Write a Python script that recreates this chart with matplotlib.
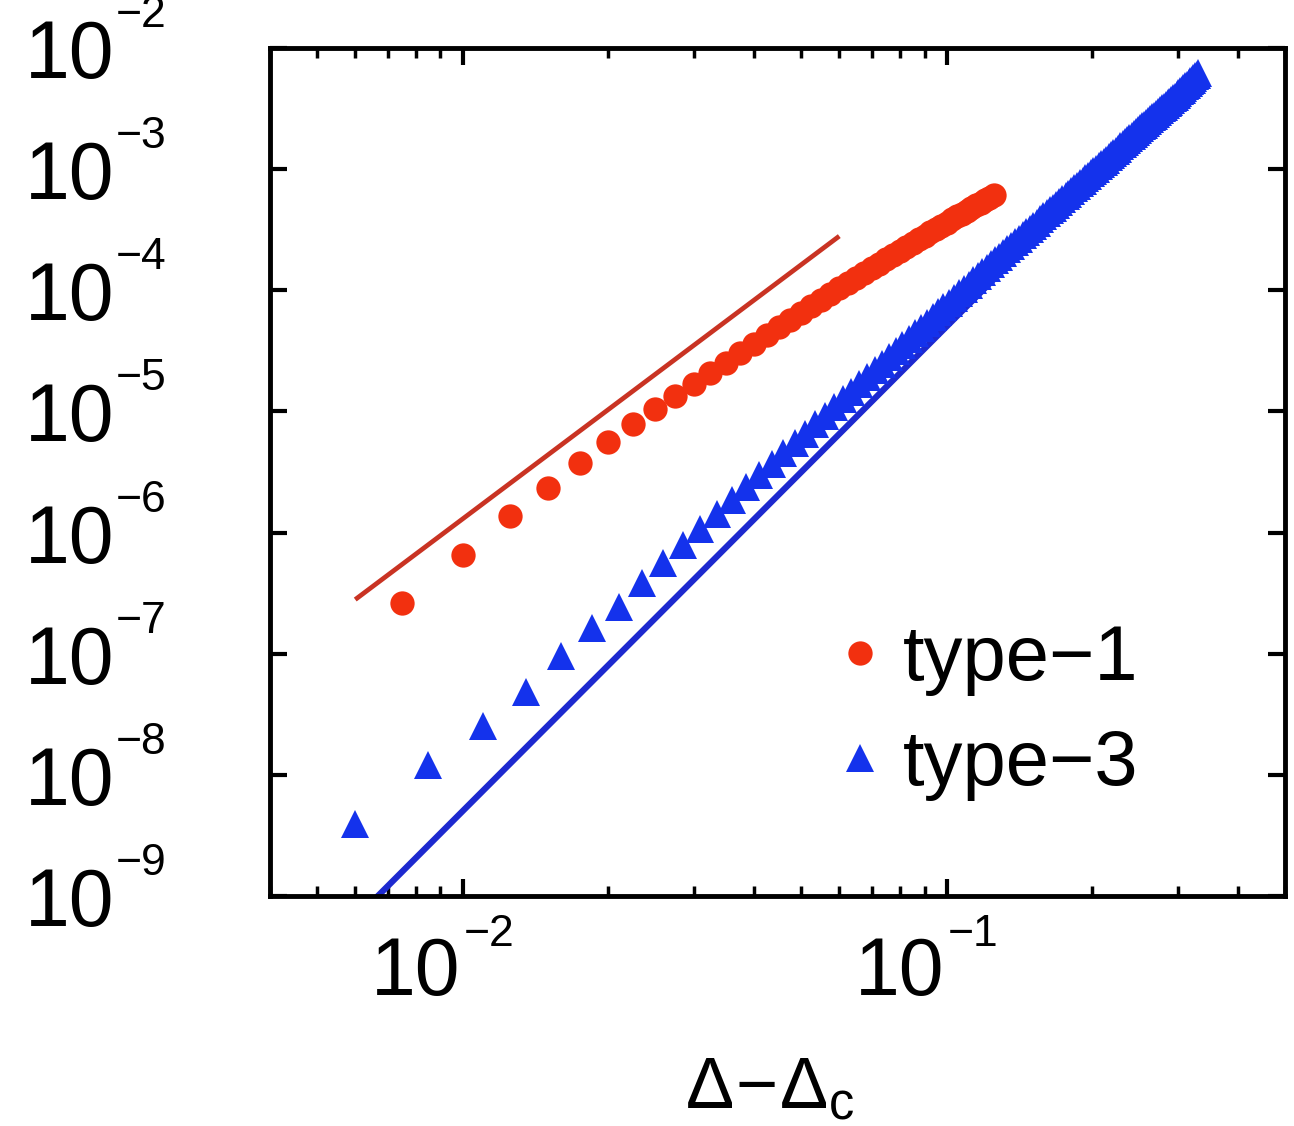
import matplotlib
matplotlib.use('Agg')
import matplotlib.pyplot as plt
from matplotlib.ticker import LogLocator, NullLocator, NullFormatter
from matplotlib.transforms import offset_copy

plt.rcParams['font.family'] = ['Liberation Sans', 'DejaVu Sans']
plt.rcParams['mathtext.fontset'] = 'custom'
plt.rcParams['mathtext.rm'] = 'Liberation Sans'
plt.rcParams['mathtext.it'] = 'Liberation Sans'
plt.rcParams['mathtext.default'] = 'regular'

# type-1 sites (red circles)
type1_x = [0.0075, 0.01, 0.0125, 0.015, 0.0175, 0.02, 0.0225, 0.025, 0.0275, 0.03,
           0.0325, 0.035, 0.0375, 0.04, 0.0425, 0.045, 0.0475, 0.05, 0.0525, 0.055,
           0.0575, 0.06, 0.0625, 0.065, 0.0675, 0.07, 0.0725, 0.075, 0.0775, 0.08,
           0.0825, 0.085, 0.0875, 0.09, 0.0925, 0.095, 0.0975, 0.1, 0.1025, 0.105,
           0.1075, 0.11, 0.1125, 0.115, 0.1175, 0.12, 0.1225, 0.125]
type1_y = [2.60e-7, 6.59e-7, 1.38e-6, 2.35e-6, 3.78e-6, 5.62e-6, 7.91e-6, 1.04e-5, 1.34e-5, 1.68e-5,
           2.07e-5, 2.53e-5, 3.04e-5, 3.62e-5, 4.25e-5, 4.94e-5, 5.69e-5, 6.49e-5, 7.37e-5, 8.30e-5,
           9.30e-5, 1.04e-4, 1.15e-4, 1.27e-4, 1.39e-4, 1.52e-4, 1.66e-4, 1.81e-4, 1.96e-4, 2.12e-4,
           2.28e-4, 2.45e-4, 2.63e-4, 2.82e-4, 3.01e-4, 3.21e-4, 3.41e-4, 3.62e-4, 3.84e-4, 4.07e-4,
           4.30e-4, 4.53e-4, 4.78e-4, 5.03e-4, 5.29e-4, 5.55e-4, 5.82e-4, 6.10e-4]

# type-3 sites (blue triangles)
type3_x = [0.006, 0.0085, 0.011, 0.0135, 0.016, 0.0185, 0.021, 0.0235, 0.026,
           0.0285, 0.031, 0.0335, 0.036, 0.0385, 0.041, 0.0435, 0.046, 0.0485, 0.051,
           0.0535, 0.056, 0.0585, 0.061, 0.0635, 0.066, 0.0685, 0.071, 0.0735, 0.076,
           0.0785, 0.081, 0.0835, 0.086, 0.0885, 0.091, 0.0935, 0.096, 0.0985, 0.101,
           0.1035, 0.106, 0.1085, 0.111, 0.1135, 0.116, 0.1185, 0.121, 0.1235, 0.126,
           0.1285, 0.131, 0.1335, 0.136, 0.1385, 0.141, 0.1435, 0.146, 0.1485, 0.151,
           0.1535, 0.156, 0.1585, 0.161, 0.1635, 0.166, 0.1685, 0.171, 0.1735, 0.176,
           0.1785, 0.181, 0.1835, 0.186, 0.1885, 0.191, 0.1935, 0.196, 0.1985, 0.201,
           0.2035, 0.206, 0.2085, 0.211, 0.2135, 0.216, 0.2185, 0.221, 0.2235, 0.226,
           0.2285, 0.231, 0.2335, 0.236, 0.2385, 0.241, 0.2435, 0.246, 0.2485, 0.251,
           0.2535, 0.256, 0.2585, 0.261, 0.2635, 0.266, 0.2685, 0.271, 0.2735, 0.276,
           0.2785, 0.281, 0.2835, 0.286, 0.2885, 0.291, 0.2935, 0.296, 0.2985, 0.301,
           0.3035, 0.306, 0.3085, 0.311, 0.3135, 0.316, 0.3185, 0.321, 0.3235, 0.326,
           0.3285, 0.331]
type3_y = [3.92e-9, 1.20e-8, 2.52e-8, 4.80e-8, 9.50e-8, 1.62e-7, 2.45e-7, 3.80e-7, 5.66e-7,
           7.90e-7, 1.07e-6, 1.42e-6, 1.85e-6, 2.36e-6, 2.97e-6, 3.68e-6, 4.51e-6, 5.47e-6, 6.57e-6,
           7.82e-6, 9.23e-6, 1.08e-5, 1.26e-5, 1.46e-5, 1.68e-5, 1.92e-5, 2.19e-5, 2.48e-5, 2.81e-5,
           3.16e-5, 3.54e-5, 3.95e-5, 4.40e-5, 4.88e-5, 5.40e-5, 5.97e-5, 6.57e-5, 7.21e-5, 7.90e-5,
           8.64e-5, 9.42e-5, 1.03e-4, 1.11e-4, 1.21e-4, 1.31e-4, 1.41e-4, 1.52e-4, 1.64e-4, 1.77e-4,
           1.90e-4, 2.04e-4, 2.18e-4, 2.33e-4, 2.49e-4, 2.66e-4, 2.84e-4, 3.02e-4, 3.21e-4, 3.41e-4,
           3.62e-4, 3.84e-4, 4.07e-4, 4.31e-4, 4.56e-4, 4.82e-4, 5.09e-4, 5.37e-4, 5.66e-4, 5.96e-4,
           6.28e-4, 6.60e-4, 6.94e-4, 7.29e-4, 7.65e-4, 8.03e-4, 8.42e-4, 8.82e-4, 9.24e-4, 9.67e-4,
           1.01e-3, 1.06e-3, 1.10e-3, 1.15e-3, 1.20e-3, 1.26e-3, 1.31e-3, 1.37e-3, 1.42e-3, 1.48e-3,
           1.54e-3, 1.61e-3, 1.67e-3, 1.74e-3, 1.80e-3, 1.87e-3, 1.94e-3, 2.02e-3, 2.09e-3, 2.17e-3,
           2.25e-3, 2.33e-3, 2.42e-3, 2.50e-3, 2.59e-3, 2.68e-3, 2.77e-3, 2.87e-3, 2.97e-3, 3.07e-3,
           3.17e-3, 3.27e-3, 3.38e-3, 3.49e-3, 3.60e-3, 3.72e-3, 3.84e-3, 3.96e-3, 4.09e-3, 4.23e-3,
           4.38e-3, 4.52e-3, 4.67e-3, 4.82e-3, 4.98e-3, 5.14e-3, 5.31e-3, 5.48e-3, 5.65e-3, 5.83e-3,
           6.00e-3, 6.19e-3]

# power-law guides: slope 3 (type-1) and slope 4 (type-3)
guide1_x = [0.006, 0.06]
guide1_y = [2.8e-7, 2.8e-4]
guide3_x = [0.006, 0.3]
guide3_y = [6.5e-10, 4.08e-3]

x_range = (0.004, 0.5)
y_range = (1e-9, 1e-2)
x_decades = [-2, -1]
y_decades = [-9, -8, -7, -6, -5, -4, -3, -2]

fig = plt.figure(figsize=(12.94, 11.26), dpi=100)
ax = fig.add_axes([270 / 1294, 230 / 1126, 1015 / 1294, 848 / 1126])

ax.plot(guide1_x, guide1_y, '-', color='#c93323', lw=3.4, solid_capstyle='butt')
ax.plot(guide3_x, guide3_y, '-', color='#1d29cf', lw=4.5, solid_capstyle='butt')
ax.plot(type1_x, type1_y, 'o', color='#f2300f', ms=17.5, mew=0, label='type\u22121')
ax.plot(type3_x, type3_y, '^', color='#1432ec', ms=20, mew=0, label='type\u22123')

ax.set_xscale('log')
ax.set_yscale('log')
ax.set_xlim(*x_range)
ax.set_ylim(*y_range)

ax.xaxis.set_major_locator(LogLocator(base=10, numticks=10))
ax.xaxis.set_minor_locator(LogLocator(base=10, subs=range(2, 10), numticks=20))
ax.yaxis.set_major_locator(LogLocator(base=10, numticks=20))
ax.yaxis.set_minor_locator(NullLocator())
for axis in (ax.xaxis, ax.yaxis):
    axis.set_major_formatter(NullFormatter())
    axis.set_minor_formatter(NullFormatter())

ax.tick_params(which='both', direction='in', top=True, right=True, color='black')
ax.tick_params(which='major', length=12, width=3)
ax.tick_params(which='minor', length=7, width=2.5)
for sp in ax.spines.values():
    sp.set_linewidth(3.5)

# decade labels written as base + raised exponent
ytrans = ax.get_yaxis_transform()
for e in y_decades:
    ax.text(0, 10.0 ** e, '10', fontsize=58, ha='right', va='baseline', clip_on=False,
            transform=offset_copy(ytrans, fig, x=-156, y=-30, units='dots'))
    ax.text(0, 10.0 ** e, '\u2212%d' % -e, fontsize=32, ha='left', va='baseline', clip_on=False,
            transform=offset_copy(ytrans, fig, x=-154, y=21, units='dots'))

xtrans = ax.get_xaxis_transform()
for e in x_decades:
    ax.text(10.0 ** e, 0, '10', fontsize=58, ha='right', va='baseline', clip_on=False,
            transform=offset_copy(xtrans, fig, x=-2, y=-99, units='dots'))
    ax.text(10.0 ** e, 0, '\u2212%d' % -e, fontsize=32, ha='left', va='baseline', clip_on=False,
            transform=offset_copy(xtrans, fig, x=1, y=-50, units='dots'))

fig.text(770 / 1294, 1 - 1108 / 1126, r'$\Delta\!-\!\Delta_{c}$', fontsize=52,
         ha='center', va='baseline')

ax.legend(loc='upper left', bbox_to_anchor=(0.5586, 0.322), frameon=False, fontsize=56,
          numpoints=1, handlelength=0.6, handletextpad=0.25, labelspacing=0.41,
          borderpad=0, borderaxespad=0)

fig.savefig('out.png', dpi=100)
